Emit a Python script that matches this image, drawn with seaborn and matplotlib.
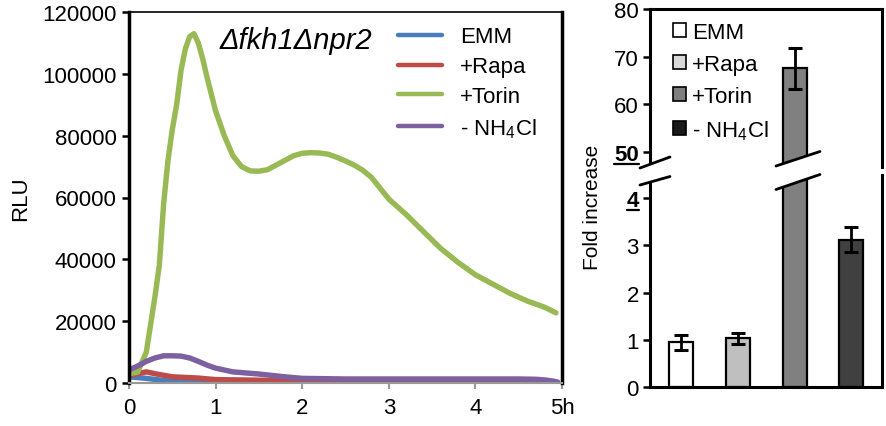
import matplotlib
matplotlib.use("Agg")
import matplotlib.pyplot as plt
import numpy as np
import pandas as pd
import seaborn as sns
from matplotlib.lines import Line2D
from matplotlib.patches import Patch, Polygon

# ---------------------------------------------------------------------------
# Data
# ---------------------------------------------------------------------------
conditions = ["EMM", "+Rapa", "+Torin", "- NH$_4$Cl"]
line_colors = ["#4a7ebb", "#be4b48", "#98b954", "#7d60a0"]

emm_t = [0, 0.2, 0.4, 0.6, 1.0, 2.0, 3.0, 4.0, 4.95]
emm_rlu = [2000, 1500, 800, 300, 100, 0, 0, 0, 0]

rapa_t = [0, 0.1, 0.2, 0.3, 0.5, 0.8, 1.0, 1.5, 2.0, 3.0, 4.0, 4.2, 4.5, 4.8, 4.95]
rapa_rlu = [2500, 3000, 3600, 3000, 2000, 1600, 1100, 900, 600, 500, 500, 200, 0, 100, 0]

torin_t = [0, 0.1, 0.2, 0.3, 0.35, 0.4, 0.45, 0.5, 0.55, 0.6, 0.65, 0.7, 0.75, 0.8,
           0.85, 0.9, 1.0, 1.1, 1.2, 1.3, 1.4, 1.5, 1.6, 1.7, 1.8, 1.9, 2.0, 2.1,
           2.2, 2.3, 2.4, 2.5, 2.6, 2.7, 2.8, 2.9, 3.0, 3.2, 3.4, 3.6, 3.8, 4.0,
           4.2, 4.4, 4.6, 4.8, 4.93]
torin_rlu = [3000, 3500, 10000, 28000, 38000, 58000, 72000, 82000, 90000, 101000,
             108000, 112000, 113000, 110000, 105000, 99000, 88000, 80000, 73500,
             70000, 68600, 68500, 69000, 70500, 72000, 73500, 74300, 74500, 74400,
             74000, 73000, 71800, 70500, 68800, 66500, 63000, 59500, 54500, 49000,
             43500, 39000, 35000, 32000, 29000, 26500, 24500, 22700]

nh4_t = [0, 0.1, 0.2, 0.3, 0.4, 0.5, 0.6, 0.7, 0.8, 0.9, 1.0, 1.2, 1.5, 1.8, 2.0,
         2.5, 3.0, 3.5, 4.0, 4.5, 4.7, 4.8, 4.9, 4.95]
nh4_rlu = [4200, 5500, 7000, 8100, 8800, 8800, 8700, 8100, 7000, 5800, 4800, 3600,
           2900, 2000, 1500, 1300, 1300, 1300, 1300, 1300, 1200, 1000, 600, 300]

fold_mean = [0.95, 1.03, 67.5, 3.12]
fold_err = [0.16, 0.12, 4.4, 0.26]
bar_colors = ["#ffffff", "#bfbfbf", "#808080", "#404040"]
legend_box_colors = ["#ffffff", "#d9d9d9", "#7f7f7f", "#1a1a1a"]

x_ticks = [0, 1, 2, 3, 4, 5]
x_ticklabels = ["0", "1", "2", "3", "4", "5h"]
y_ticks_left = [0, 20000, 40000, 60000, 80000, 100000, 120000]
y_ticks_low = [0, 1, 2, 3, 4]
y_ticks_up = [50, 60, 70, 80]

# ---------------------------------------------------------------------------
# Style
# ---------------------------------------------------------------------------
sns.set_theme(style="white")
plt.rcParams["font.family"] = ["Liberation Sans", "DejaVu Sans"]
plt.rcParams["mathtext.fontset"] = "custom"
plt.rcParams["mathtext.rm"] = "Liberation Sans"
plt.rcParams["mathtext.it"] = "Liberation Sans:italic"
plt.rcParams["mathtext.bf"] = "Liberation Sans:bold"
for key in ["text.color", "axes.labelcolor", "xtick.labelcolor", "ytick.labelcolor"]:
    plt.rcParams[key] = "black"

W, H = 886, 427
FS = 16


def fx(x):
    return x / W


def fy(y):
    return 1 - y / H


def box(x0, y0, x1, y1):
    return [fx(x0), fy(y1), fx(x1) - fx(x0), fy(y0) - fy(y1)]


fig = plt.figure(figsize=(W / 100, H / 100), dpi=100)

# ---------------------------------------------------------------------------
# Left panel: luminescence time course
# ---------------------------------------------------------------------------
ax = fig.add_axes(box(129, 13, 562, 384))

series = [(emm_t, emm_rlu), (rapa_t, rapa_rlu), (torin_t, torin_rlu), (nh4_t, nh4_rlu)]
frames = []
for name, (t, v) in zip(conditions, series):
    frames.append(pd.DataFrame({"time": t, "rlu": v, "condition": name}))
df = pd.concat(frames, ignore_index=True)

sns.lineplot(data=df, x="time", y="rlu", hue="condition", hue_order=conditions,
             palette=line_colors, linewidth=3.9, estimator=None, sort=False,
             legend=False, ax=ax)

ax.set_xlim(0, 5)
ax.set_ylim(0, 120000)
ax.set_xticks(x_ticks)
ax.set_xticklabels(x_ticklabels)
ax.set_yticks(y_ticks_left)
ax.set_yticklabels([str(v) for v in y_ticks_left])
ax.set_xlabel("")
ax.set_ylabel("RLU", fontsize=FS, labelpad=8)
ax.tick_params(axis="y", labelsize=FS, length=5, width=1.8, color="black", direction="out", pad=4, left=True)
ax.tick_params(axis="x", labelsize=FS, length=4, width=1.5, color="#999999", direction="out", pad=6, bottom=True)
for side in ["left", "right", "top"]:
    ax.spines[side].set_color("black")
ax.spines["left"].set_linewidth(2.5)
ax.spines["right"].set_linewidth(2.5)
ax.spines["top"].set_linewidth(1.2)
ax.spines["bottom"].set_color("#999999")
ax.spines["bottom"].set_linewidth(1.5)

ax.text(0.21, 0.925, "\u0394fkh1\u0394npr2", transform=ax.transAxes, fontsize=21,
        fontstyle="italic", ha="left", va="center")

handles = [Line2D([0], [0], color=c, linewidth=3.2) for c in line_colors]
ax.legend(handles, conditions, loc="upper left", bbox_to_anchor=(0.60, 0.985),
          frameon=False, fontsize=FS, handlelength=2.0, handletextpad=0.8,
          labelspacing=0.4, borderaxespad=0)

# ---------------------------------------------------------------------------
# Right panel: fold increase with broken axis
# ---------------------------------------------------------------------------
ax_up = fig.add_axes(box(650, 10, 882, 168))
ax_low = fig.add_axes(box(650, 176, 882, 388))

df_bar = pd.DataFrame({"cond": conditions, "fold": fold_mean})
for a in (ax_up, ax_low):
    sns.barplot(data=df_bar, x="cond", y="fold", hue="cond", hue_order=conditions,
                palette=bar_colors, width=0.423, edgecolor="black", linewidth=1.6,
                errorbar=None, legend=False, ax=a)
    a.errorbar(np.arange(len(conditions)), fold_mean, yerr=fold_err, fmt="none",
               ecolor="black", elinewidth=2, capsize=5, capthick=2.2, zorder=5)
    a.set_xlim(-0.552, 3.541)
    a.set_xlabel("")
    a.set_ylabel("")
    a.set_xticks([])
    for side in ["left", "right", "top", "bottom"]:
        a.spines[side].set_color("black")
        a.spines[side].set_linewidth(2.2)
    a.tick_params(axis="y", labelsize=FS, length=5, width=1.8, color="black", direction="out", pad=3, left=True)

ax_up.set_ylim(46.8, 80)
ax_up.set_yticks(y_ticks_up)
ax_up.set_yticklabels([str(v) for v in y_ticks_up])
ax_up.spines["bottom"].set_visible(False)

ax_low.set_ylim(0, 4.49)
ax_low.set_yticks(y_ticks_low)
ax_low.set_yticklabels([str(v) for v in y_ticks_low])
ax_low.spines["top"].set_visible(False)

# bold + underlined break labels
ax_up.get_yticklabels()[0].set_fontweight("bold")
ax_low.get_yticklabels()[-1].set_fontweight("bold")

fig.text(fx(593), fy(207), "Fold increase", rotation=90, fontsize=FS - 1,
         ha="center", va="center")

box_handles = [Patch(facecolor=c, edgecolor="black", linewidth=1.2) for c in legend_box_colors]
ax_up.legend(box_handles, conditions, loc="upper left", bbox_to_anchor=(0.06, 0.975),
             frameon=False, fontsize=FS, handlelength=0.6, handleheight=0.6,
             handletextpad=0.25, labelspacing=0.5, borderaxespad=0)

# break marks (white gap + slashes)
for (xa, xb, ya1, yb1, ya2, yb2) in [(640, 670, 169, 158, 186, 177.5),
                                     (776, 820, 167, 152.5, 190.5, 175.5)]:
    gap = Polygon([(fx(xa), fy(ya1)), (fx(xb), fy(yb1)), (fx(xb), fy(yb2)), (fx(xa), fy(ya2))],
                  closed=True, transform=fig.transFigure, facecolor="white",
                  edgecolor="none", zorder=10)
    fig.add_artist(gap)
    for y1, y2 in [(ya1, yb1), (ya2, yb2)]:
        fig.add_artist(Line2D([fx(xa), fx(xb)], [fy(y1), fy(y2)], transform=fig.transFigure,
                              color="black", linewidth=2, zorder=11))

fig.canvas.draw()
renderer = fig.canvas.get_renderer()
inv = fig.transFigure.inverted()
for lab in (ax_up.get_yticklabels()[0], ax_low.get_yticklabels()[-1]):
    bb = lab.get_window_extent(renderer)
    (x0, y0), (x1, _) = inv.transform([(bb.x0, bb.y0), (bb.x1, bb.y1)])
    fig.add_artist(Line2D([x0, x1], [y0 + 0.002, y0 + 0.002], transform=fig.transFigure,
                          color="black", linewidth=1.6))

fig.savefig("out.png", dpi=100)
